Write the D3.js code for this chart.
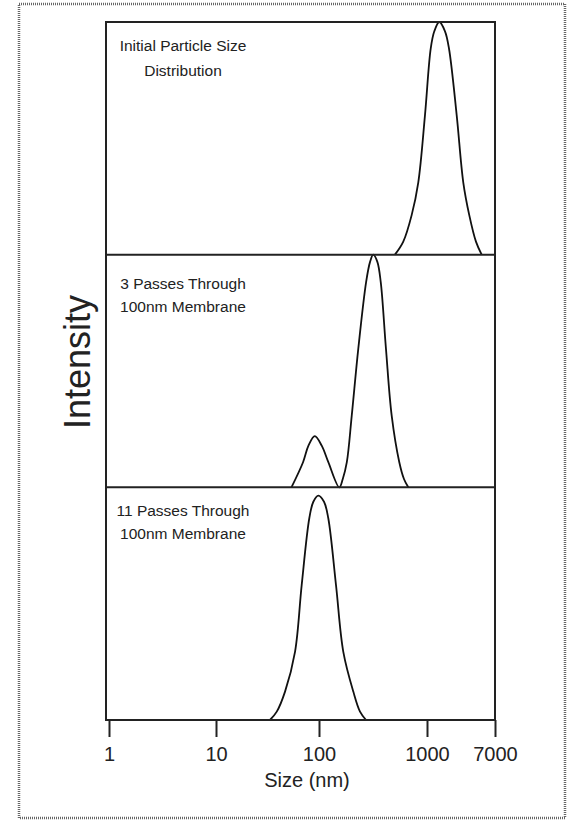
<!DOCTYPE html>
<html>
<head>
<meta charset="utf-8">
<script src="https://cdn.jsdelivr.net/npm/d3@7"></script>
<style>
	body { margin: 0; background: #fff; }
	text { font-family: "Liberation Sans", Arial, sans-serif; fill: #222; }
</style>
</head>
<body>
<div id="chart-area"></div>
<script>
const width = 568
const height = 821

// frame of the plot
const frame = { left: 106, right: 495, top: 22, bottom: 720 }

// data
const panels = ['initial', 'pass3', 'pass11']
const panelLabels = [
	['Initial Particle Size', 'Distribution'],
	['3 Passes Through', '100nm Membrane'],
	['11 Passes Through', '100nm Membrane']
]
const sizeTicks = [1, 10, 100, 1000, 7000]

// size (nm) and relative intensity
const initialSize = [505, 603, 721, 830, 958, 1112, 1232, 1422, 1674, 1876, 2338, 2825, 3352, 4060, 4780]
const initialIntensity = [0, 0.056, 0.17, 0.31, 0.6, 0.886, 0.96, 1, 0.96, 0.886, 0.6, 0.31, 0.17, 0.056, 0]

const pass3Size = [54, 70, 79, 91, 106, 122, 154, 166, 181, 201, 231, 273, 297, 318, 347, 373, 417, 471, 554, 612, 671]
const pass3Intensity = [0, 0.108, 0.179, 0.22, 0.179, 0.108, 0, 0.036, 0.108, 0.308, 0.595, 0.882, 0.969, 1, 0.969, 0.882, 0.595, 0.308, 0.108, 0.036, 0]

const pass11Size = [33.4, 38.9, 46.8, 58.5, 67.9, 80.5, 88.1, 98.5, 111.3, 121.9, 143.7, 167.9, 207.8, 239.7, 272.5]
const pass11Intensity = [0, 0.036, 0.122, 0.293, 0.58, 0.867, 0.938, 0.964, 0.938, 0.867, 0.58, 0.293, 0.122, 0.036, 0]

const series = [
	d3.zip(initialSize, initialIntensity),
	d3.zip(pass3Size, pass3Intensity),
	d3.zip(pass11Size, pass11Intensity)
]

// label baselines, offset from each panel top
const labelOffsets = [[29, 54], [34, 57], [29, 52]]

let svg = d3.select('#chart-area')
	.append('svg')
	.attr('width', width)
	.attr('height', height)

// dotted outer border
svg.append('rect')
	.attr('x', 19)
	.attr('y', 4)
	.attr('width', 546)
	.attr('height', 814)
	.attr('fill', 'none')
	.attr('stroke', '#666')
	.attr('stroke-width', 2.5)
	.attr('stroke-dasharray', '1 1')

// x scale - the axis in the picture is not evenly spaced, so piecewise log
let xScale = d3.scaleLog()
	.domain(sizeTicks)
	.range([109, 216, 319, 427, 495])

let panelScale = d3.scaleBand()
	.domain(panels)
	.range([frame.top, frame.bottom])

let line = d3.line().curve(d3.curveCatmullRom.alpha(0.5))

panels.forEach((p, i) => {
	let y0 = panelScale(p)
	let yScale = d3.scaleLinear()
		.domain([0, 1])
		.range([y0 + panelScale.bandwidth(), y0])

	line.x(d => xScale(d[0])).y(d => Math.min(yScale(d[1]), yScale(0)))

	svg.append('path')
		.datum(series[i])
		.attr('d', line)
		.attr('fill', 'none')
		.attr('stroke', '#111')
		.attr('stroke-width', 1.8)

	svg.append('text')
		.attr('text-anchor', 'middle')
		.attr('font-size', 15.5)
		.selectAll('tspan')
		.data(panelLabels[i])
		.join('tspan')
		.attr('x', 183)
		.attr('y', (d, j) => y0 + labelOffsets[i][j])
		.text(d => d)

	// divider on top of each panel except the first
	if (i > 0) {
		svg.append('line')
			.attr('x1', frame.left)
			.attr('x2', frame.right)
			.attr('y1', y0)
			.attr('y2', y0)
			.attr('stroke', '#222')
			.attr('stroke-width', 2)
	}
})

// frame
svg.append('rect')
	.attr('x', frame.left)
	.attr('y', frame.top)
	.attr('width', frame.right - frame.left)
	.attr('height', frame.bottom - frame.top)
	.attr('fill', 'none')
	.attr('stroke', '#222')
	.attr('stroke-width', 2)

let xAxis = d3.axisBottom(xScale)
	.tickValues(sizeTicks)
	.tickFormat(d => d)
	.tickSize(17)
	.tickPadding(10)

let gx = svg.append('g')
	.attr('transform', 'translate(0,' + frame.bottom + ')')
	.call(xAxis)

gx.select('.domain').remove()
gx.selectAll('.tick line').attr('stroke', '#222').attr('stroke-width', 2)
gx.selectAll('.tick text')
	.attr('font-size', 20)
	.attr('font-family', '"Liberation Sans", Arial, sans-serif')
	.attr('fill', '#222')

svg.append('text')
	.attr('x', 307)
	.attr('y', 787)
	.attr('text-anchor', 'middle')
	.attr('font-size', 20)
	.text('Size (nm)')

svg.append('text')
	.attr('transform', 'translate(90,362) rotate(-90)')
	.attr('text-anchor', 'middle')
	.attr('font-size', 36)
	.text('Intensity')
</script>
</body>
</html>
